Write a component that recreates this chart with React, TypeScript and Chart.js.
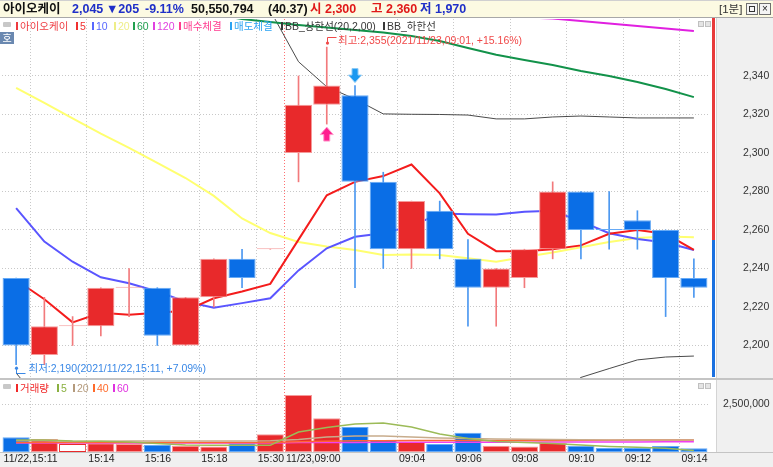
import React, { useEffect, useRef } from 'react';
import { Chart, registerables } from 'chart.js';

Chart.register(...registerables);

// ---------- data ----------
const times = ['11/22,15:11', '15:12', '15:13', '15:14', '15:15', '15:16', '15:17', '15:18', '15:19', '15:30', '11/23,09:00', '09:01', '09:02', '09:03', '09:04', '09:05', '09:06', '09:07', '09:08', '09:09', '09:10', '09:11', '09:12', '09:13', '09:14'];
const shownLabelIdx = [0, 3, 5, 7, 9, 10, 14, 16, 18, 20, 22, 24];
const gridIdx = [1, 3, 5, 7, 9, 12, 14, 16, 18, 20, 22, 24];
const dayBreakIdx = 10;

const opens = [2235, 2195, 2210, 2210, 2230, 2230, 2200, 2225, 2245, 2250, 2300, 2325, 2330, 2285, 2250, 2270, 2245, 2230, 2235, 2250, 2280, 2260, 2265, 2260, 2235];
const highs = [2235, 2225, 2215, 2230, 2240, 2230, 2225, 2245, 2250, 2250, 2340, 2355, 2335, 2290, 2275, 2275, 2255, 2240, 2250, 2285, 2280, 2280, 2270, 2260, 2245];
const lows = [2190, 2190, 2200, 2205, 2215, 2200, 2200, 2220, 2230, 2250, 2285, 2315, 2230, 2240, 2240, 2245, 2210, 2210, 2230, 2245, 2245, 2250, 2250, 2215, 2225];
const closes = [2200, 2210, 2210, 2230, 2230, 2205, 2225, 2245, 2235, 2250, 2325, 2335, 2285, 2250, 2275, 2250, 2230, 2240, 2250, 2280, 2260, 2260, 2260, 2235, 2230];
const dojiFalling = [21];

const ma5 = [2234, 2224, 2212, 2217, 2216, 2217, 2218, 2224.5, 2228, 2232, 2255, 2278, 2285, 2288, 2294, 2279, 2258, 2249, 2249, 2250, 2252, 2258, 2260, 2258, 2249.6];
const ma10 = [2271.4, 2254, 2243.5, 2235.4, 2232.3, 2228, 2222.8, 2219.6, 2222, 2224.5, 2239, 2250.5, 2256.5, 2258.3, 2262, 2268.5, 2268.2, 2268, 2269.5, 2270, 2264.5, 2258.3, 2255.3, 2253.5, 2249.6];
const ma20 = [2333.8, 2326, 2318, 2310, 2302.6, 2294.8, 2287, 2277.7, 2266, 2258.4, 2253.8, 2251.4, 2249.6, 2247, 2247.3, 2247, 2245.3, 2243.5, 2246, 2248.3, 2251, 2253.8, 2255.8, 2256.6, 2256.2];
const ma60 = [2390, 2387, 2384, 2381, 2378.5, 2376, 2374, 2372, 2369.6, 2368, 2366.5, 2365.2, 2363.9, 2362.6, 2360.8, 2358.2, 2354.5, 2351, 2348.3, 2345.7, 2342.6, 2340, 2336.9, 2333.2, 2329];
const ma120 = [2392, 2390, 2388.5, 2387, 2385.5, 2384, 2382.5, 2381, 2379.5, 2378, 2377, 2376, 2375, 2374, 2373, 2372, 2371.5, 2371, 2370.5, 2369.8, 2368.6, 2367.3, 2366, 2364.7, 2363.4];
const bbUpper = [2410, 2406, 2402, 2398, 2394, 2390, 2386, 2382, 2378, 2374, 2347.4, 2334.4, 2328, 2320.3, 2320.1, 2320, 2319.7, 2317.7, 2317.7, 2318.7, 2319.2, 2318.7, 2318.2, 2318.2, 2318.2];
const bbLower = [2185.7, 2168, 2160, 2150, 2145, 2140, 2138, 2135, 2133, 2132, 2130, 2128, 2125, 2122, 2125, 2130, 2140, 2150, 2160, 2172, 2183.4, 2188, 2192.5, 2194, 2194.5];

const volumes = [770000, 680000, 420000, 450000, 420000, 360000, 330000, 280000, 450000, 920000, 2970000, 1760000, 1300000, 620000, 540000, 420000, 1000000, 330000, 280000, 480000, 330000, 210000, 210000, 310000, 190000];
const hollowVolumeIdx = [2];
const volMa5 = [630000, 630000, 570000, 560000, 520000, 440000, 360000, 350000, 350000, 350000, 1040000, 1280000, 1460000, 1510000, 1300000, 940000, 700000, 550000, 500000, 440000, 360000, 290000, 250000, 200000, 80000];
const volMa20 = [580000, 580000, 550000, 560000, 570000, 570000, 570000, 570000, 570000, 580000, 650000, 780000, 830000, 830000, 780000, 730000, 700000, 680000, 660000, 650000, 640000, 630000, 620000, 620000, 620000];
const volMa40 = [500000, 500000, 500000, 500000, 500000, 500000, 500000, 500000, 500000, 500000, 540000, 560000, 580000, 590000, 600000, 600000, 600000, 600000, 600000, 600000, 610000, 610000, 620000, 620000, 620000];
const volMa60 = [470000, 470000, 470000, 470000, 470000, 470000, 470000, 470000, 470000, 470000, 490000, 495000, 500000, 502000, 505000, 508000, 510000, 512000, 514000, 516000, 520000, 523000, 526000, 528000, 530000];

const priceTicks = [2200, 2220, 2240, 2260, 2280, 2300, 2320, 2340];
const volTicks = [2500000];
const priceMin = 2183.1;
const priceMax = 2369.6;
const volMax = 3750000;

const highestIdx = 11;
const lowestIdx = 0;
const highestText = '최고:2,355(2021/11/23,09:01, +15.16%)';
const lowestText = '최저:2,190(2021/11/22,15:11, +7.09%)';
const buyIdx = 11;
const sellIdx = 12;

// ---------- styling ----------
const RED = '#e8292b';
const RED_LIGHT = '#f59a9a';
const RED_WICK = '#f27a7c';
const BLUE = '#0a6ee6';
const BLUE_LIGHT = '#66aaf6';
const BLUE_WICK = '#4c98f0';
const AXIS_FONT = '"Liberation Sans", "Noto Sans CJK KR", sans-serif';

const isUp = (i: number) => closes[i] > opens[i] || (closes[i] === opens[i] && !dojiFalling.includes(i));
const fmt = (v: number) => Number(v).toLocaleString('en-US');

const gridColor = (c: any) => {
  if (c.index === undefined || c.type !== 'tick') return 'rgba(0,0,0,0)';
  if (c.index === dayBreakIdx) return '#ff7070';
  return gridIdx.includes(c.index) ? '#c8c8c8' : 'rgba(0,0,0,0)';
};

const noPad = (s: any) => {
  s.paddingTop = 0;
  s.paddingBottom = 0;
  s.paddingLeft = 0;
  s.paddingRight = 0;
};

const annotPlugin = {
  id: 'annot',
  afterDatasetsDraw(chart: any) {
    const { ctx } = chart;
    const x = chart.scales.x;
    const y = chart.scales.y;
    ctx.save();
    ctx.font = '10.5px ' + AXIS_FONT;
    ctx.textBaseline = 'middle';
    ctx.lineWidth = 1;
    {
      const hx = Math.round(x.getPixelForValue(highestIdx)) + 0.5;
      const hy = y.getPixelForValue(highs[highestIdx]);
      ctx.strokeStyle = '#f04848';
      ctx.fillStyle = '#f04848';
      ctx.beginPath();
      ctx.arc(hx, hy - 4, 1.6, 0, Math.PI * 2);
      ctx.fill();
      ctx.beginPath();
      ctx.moveTo(hx, hy - 4);
      ctx.lineTo(hx, Math.round(hy - 10) + 0.5);
      ctx.lineTo(hx + 9, Math.round(hy - 10) + 0.5);
      ctx.stroke();
      ctx.fillText(highestText, hx + 10.5, hy - 6);
    }
    {
      const lx = Math.round(x.getPixelForValue(lowestIdx)) + 0.5;
      const ly = y.getPixelForValue(lows[lowestIdx]);
      ctx.strokeStyle = '#3a88e6';
      ctx.fillStyle = '#3a88e6';
      ctx.beginPath();
      ctx.arc(lx, ly + 3.5, 1.6, 0, Math.PI * 2);
      ctx.fill();
      ctx.beginPath();
      ctx.moveTo(lx, ly + 3.5);
      ctx.lineTo(lx, Math.round(ly + 8) + 0.5);
      ctx.lineTo(lx + 9, Math.round(ly + 8) + 0.5);
      ctx.stroke();
      ctx.fillText(lowestText, lx + 12, ly + 4);
    }
    {
      const cx = x.getPixelForValue(buyIdx);
      const ty = y.getPixelForValue(lows[buyIdx]) + 3;
      ctx.fillStyle = '#ff1f8f';
      ctx.strokeStyle = '#ff9acb';
      ctx.beginPath();
      ctx.moveTo(cx, ty);
      ctx.lineTo(cx + 6.5, ty + 7.5);
      ctx.lineTo(cx + 3, ty + 7.5);
      ctx.lineTo(cx + 3, ty + 14);
      ctx.lineTo(cx - 3, ty + 14);
      ctx.lineTo(cx - 3, ty + 7.5);
      ctx.lineTo(cx - 6.5, ty + 7.5);
      ctx.closePath();
      ctx.fill();
      ctx.stroke();
    }
    {
      const cx = x.getPixelForValue(sellIdx);
      const ty = y.getPixelForValue(highs[sellIdx]) - 3;
      ctx.fillStyle = '#1a98f0';
      ctx.strokeStyle = '#8ccaf6';
      ctx.beginPath();
      ctx.moveTo(cx, ty);
      ctx.lineTo(cx + 6.5, ty - 7.5);
      ctx.lineTo(cx + 3, ty - 7.5);
      ctx.lineTo(cx + 3, ty - 14);
      ctx.lineTo(cx - 3, ty - 14);
      ctx.lineTo(cx - 3, ty - 7.5);
      ctx.lineTo(cx - 6.5, ty - 7.5);
      ctx.closePath();
      ctx.fill();
      ctx.stroke();
    }
    ctx.restore();
  },
};

const line = (label: string, data: number[], color: string, width: number, order: number) => ({
  type: 'line' as const,
  label,
  data,
  borderColor: color,
  backgroundColor: color,
  borderWidth: width,
  pointRadius: 0,
  tension: 0,
  order,
});

const W = 773;
const AXIS_W = 65;

export default function App() {
  const priceRef = useRef<HTMLCanvasElement>(null);
  const volRef = useRef<HTMLCanvasElement>(null);

  useEffect(() => {
    document.body.style.margin = '0';
    const idx = times.map((_, i) => i);
    const priceChart = new Chart(priceRef.current as HTMLCanvasElement, {
      type: 'bar',
      data: {
        labels: times,
        datasets: [
          {
            type: 'bar',
            label: 'body',
            data: idx.map((i) => [opens[i], closes[i]]) as any,
            backgroundColor: idx.map((i) => (isUp(i) ? RED : BLUE)),
            borderColor: idx.map((i) => (isUp(i) ? RED_LIGHT : BLUE_LIGHT)),
            borderWidth: 1,
            borderSkipped: false,
            grouped: false,
            categoryPercentage: 1,
            barPercentage: 0.96,
            minBarLength: 1,
            order: 0,
          } as any,
          {
            type: 'bar',
            label: 'wick',
            data: idx.map((i) => [lows[i], highs[i]]) as any,
            backgroundColor: idx.map((i) => (isUp(i) ? RED_WICK : BLUE_WICK)),
            borderWidth: 0,
            grouped: false,
            barThickness: 1,
            order: 1,
          } as any,
          line('5', ma5, '#f41c1c', 2, 3),
          line('10', ma10, '#5a55ff', 2, 4),
          line('20', ma20, '#ffff70', 2, 5),
          line('60', ma60, '#12924a', 2, 6),
          line('120', ma120, '#e020e0', 2, 7),
          line('BB_상한선', bbUpper, '#4a4a4a', 1, 8),
          line('BB_하한선', bbLower, '#4a4a4a', 1, 9),
        ] as any,
      },
      options: {
        animation: false,
        responsive: false,
        maintainAspectRatio: false,
        events: [],
        layout: { padding: { left: 2, right: 0, top: 0, bottom: 0 } },
        plugins: { legend: { display: false }, tooltip: { enabled: false } },
        scales: {
          x: {
            offset: true,
            grid: { offset: true, color: gridColor, drawTicks: false, lineWidth: 1, borderDash: [1, 2] } as any,
            border: { display: false, dash: [1, 2] },
            ticks: { display: false, autoSkip: false, maxRotation: 0, minRotation: 0 },
            afterFit: (s: any) => { s.height = 0; noPad(s); },
          },
          y: {
            position: 'right',
            min: priceMin,
            max: priceMax,
            afterFit: (s: any) => { s.width = AXIS_W; noPad(s); },
            afterBuildTicks: (s: any) => { s.ticks = priceTicks.map((v) => ({ value: v })); },
            grid: { color: '#c8c8c8', drawTicks: true, tickLength: 35, tickColor: 'rgba(0,0,0,0)', borderDash: [1, 2] } as any,
            border: { display: false, dash: [1, 2] },
            ticks: {
              callback: (v: any) => fmt(v),
              font: { family: AXIS_FONT, size: 10.5 },
              color: '#333',
              padding: 0,
            },
          },
        },
      } as any,
      plugins: [annotPlugin],
    });

    const volChart = new Chart(volRef.current as HTMLCanvasElement, {
      type: 'bar',
      data: {
        labels: times,
        datasets: [
          {
            type: 'bar',
            label: '거래량',
            data: volumes,
            backgroundColor: idx.map((i) => (hollowVolumeIdx.includes(i) ? '#ffffff' : isUp(i) ? RED : BLUE)),
            borderColor: idx.map((i) => (hollowVolumeIdx.includes(i) ? RED : isUp(i) ? RED_LIGHT : BLUE_LIGHT)),
            borderWidth: 1,
            borderSkipped: false,
            categoryPercentage: 1,
            barPercentage: 0.96,
            order: 5,
          } as any,
          line('5', volMa5, '#9cbb58', 1.5, 1),
          line('20', volMa20, '#c8ac8c', 1.5, 2),
          line('40', volMa40, '#ff6633', 1.5, 3),
          line('60', volMa60, '#f040f0', 1.5, 4),
        ] as any,
      },
      options: {
        animation: false,
        responsive: false,
        maintainAspectRatio: false,
        events: [],
        layout: { padding: { left: 2, right: 0, top: 0, bottom: 0 } },
        plugins: { legend: { display: false }, tooltip: { enabled: false } },
        scales: {
          x: {
            offset: true,
            grid: { offset: true, color: gridColor, drawTicks: false, lineWidth: 1, borderDash: [1, 2] } as any,
            border: { display: false, dash: [1, 2] },
            ticks: {
              autoSkip: false,
              maxRotation: 0,
              minRotation: 0,
              align: 'start',
              labelOffset: -12.5,
              padding: 1,
              color: '#222',
              font: { family: AXIS_FONT, size: 10.5 },
              callback: (_v: any, i: number) => (shownLabelIdx.includes(i) ? times[i] : ''),
            },
            afterFit: (s: any) => { s.height = 15; noPad(s); },
          },
          y: {
            position: 'right',
            min: 0,
            max: volMax,
            afterFit: (s: any) => { s.width = AXIS_W; noPad(s); },
            afterBuildTicks: (s: any) => { s.ticks = volTicks.map((v) => ({ value: v })); },
            grid: { color: '#c8c8c8', drawTicks: true, tickLength: 15, tickColor: 'rgba(0,0,0,0)', borderDash: [1, 2] } as any,
            border: { display: false, dash: [1, 2] },
            ticks: {
              callback: (v: any) => fmt(v),
              font: { family: AXIS_FONT, size: 10.5 },
              color: '#333',
              padding: 0,
            },
          },
        },
      } as any,
    });

    return () => {
      priceChart.destroy();
      volChart.destroy();
    };
  }, []);

  const abs = (s: any) => ({ position: 'absolute' as const, ...s });
  const headerFont = '"Liberation Sans", "Noto Sans CJK KR", sans-serif';
  const headerItems: [number, string, string][] = [
    [3, '아이오케이', '#111'],
    [72, '2,045', '#1f2fc8'],
    [106, '▼205', '#1f2fc8'],
    [145, '-9.11%', '#1f2fc8'],
    [191, '50,550,794', '#111'],
    [268, '(40.37)', '#111'],
    [310, '시 2,300', '#e01818'],
    [371, '고 2,360', '#e01818'],
    [420, '저 1,970', '#1f2fc8'],
  ];
  const priceLegend: [number, string, string][] = [
    [16, '아이오케이', '#ee3a40'],
    [76, '5', '#f03030'],
    [92, '10', '#5868ff'],
    [114, '20', '#eeee88'],
    [133, '60', '#22a050'],
    [153, '120', '#e040e0'],
    [179, '매수체결', '#ff3c90'],
    [230, '매도체결', '#2aa2f2'],
    [281, 'BB_상한선(20,2,00)', '#383838'],
    [383, 'BB_하한선', '#383838'],
  ];
  const volLegend: [number, string, string][] = [
    [16, '거래량', '#f02828'],
    [57, '5', '#8ab040'],
    [73, '20', '#b49a7c'],
    [93, '40', '#ff6a2a'],
    [113, '60', '#e030e0'],
  ];
  const legendFont = '"Liberation Sans", "Noto Sans CJK KR", sans-serif';

  const legendRow = (items: [number, string, string][], top: number) =>
    items.map(([x, t, c], i) => (
      <React.Fragment key={t + i}>
        <span style={abs({ left: x, top: top + 3, width: 2, height: 8, background: c })} />
        <span style={abs({ left: x + 4, top: top, lineHeight: '14px', fontSize: 10.5, color: c, fontFamily: legendFont, whiteSpace: 'nowrap' })}>{t}</span>
      </React.Fragment>
    ));

  const cornerBoxes = (top: number) => (
    <>
      <span style={abs({ left: 698, top, width: 6, height: 6, background: '#e4e4e4', border: '1px solid #c0c0c0', boxSizing: 'border-box' })} />
      <span style={abs({ left: 705, top, width: 6, height: 6, background: '#e4e4e4', border: '1px solid #c0c0c0', boxSizing: 'border-box' })} />
    </>
  );

  return (
    <div style={abs({ left: 0, top: 0, width: W, height: 467, overflow: 'hidden', background: '#ffffff', position: 'fixed' })}>
      <div style={abs({ left: 716, top: 18, width: 57, height: 434, background: '#f0f0f0', borderLeft: '1px solid #d4d4d4', boxSizing: 'border-box' })} />
      <div style={abs({ left: 0, top: 452, width: W, height: 15, background: '#f0f0f0', borderTop: '1px solid #c4c4c4', boxSizing: 'border-box' })} />

      <canvas ref={priceRef} width={W} height={359} style={abs({ left: 0, top: 19, width: W, height: 359 })} />
      <div style={abs({ left: 0, top: 378, width: W, height: 2, background: '#c4c4c4' })} />
      <canvas ref={volRef} width={W} height={87} style={abs({ left: 0, top: 380, width: W, height: 87 })} />

      <div style={abs({ left: 712, top: 18, width: 3, height: 222, background: '#e83a3a' })} />
      <div style={abs({ left: 712, top: 240, width: 3, height: 137, background: '#1a70e0' })} />

      <div style={abs({ left: 0, top: 0, width: W, height: 18, background: '#fcfae2', borderTop: '1px solid #d0d0d0', borderBottom: '1px solid #a8a8a8', boxSizing: 'border-box' })}>
        {headerItems.map(([x, t, c]) => (
          <span key={t} style={abs({ left: x, top: 0, lineHeight: '16px', fontSize: 12.5, fontWeight: 700, color: c, fontFamily: headerFont, whiteSpace: 'nowrap' })}>{t}</span>
        ))}
        <span style={abs({ left: 719, top: 0, lineHeight: '16px', fontSize: 11.5, color: '#333', fontFamily: legendFont })}>[1분]</span>
        <span style={abs({ left: 746, top: 2, width: 12, height: 12, border: '1px solid #707070', background: '#f4f4f4', boxSizing: 'border-box' })}>
          <span style={abs({ left: 2, top: 2, width: 6, height: 6, border: '1px solid #333', boxSizing: 'border-box' })} />
        </span>
        <span style={abs({ left: 759, top: 2, width: 12, height: 12, border: '1px solid #707070', background: '#f4f4f4', boxSizing: 'border-box', fontSize: 10, lineHeight: '10px', textAlign: 'center', color: '#222', fontFamily: legendFont })}>×</span>
      </div>

      <span style={abs({ left: 3, top: 22, width: 8, height: 5, background: '#c8c8c8', borderRadius: 1 })} />
      {legendRow(priceLegend, 19)}
      {cornerBoxes(21)}
      <div style={abs({ left: 0, top: 32, width: 14, height: 12, background: '#6a88b0', color: '#fff', fontSize: 10, lineHeight: '12px', textAlign: 'center', fontFamily: '"Noto Sans CJK KR", sans-serif' })}>호</div>

      <span style={abs({ left: 3, top: 384, width: 8, height: 5, background: '#c8c8c8', borderRadius: 1 })} />
      {legendRow(volLegend, 381)}
      {cornerBoxes(383)}
    </div>
  );
}
